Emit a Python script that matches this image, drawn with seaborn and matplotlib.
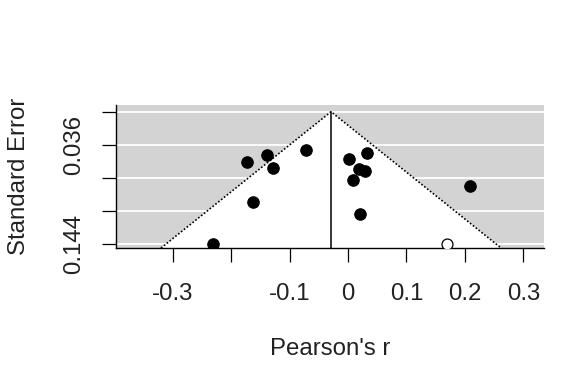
import numpy as np
import seaborn as sns
import matplotlib
matplotlib.use("Agg")
from matplotlib import pyplot as plt

# observed studies (Pearson's r, standard error)
study_r = [-0.172, -0.139, -0.128, -0.072, -0.163, -0.231,
           0.002, 0.032, 0.019, 0.029, 0.008, 0.021, 0.209]
study_se = [0.055, 0.047, 0.061, 0.042, 0.098, 0.144,
            0.051, 0.045, 0.062, 0.065, 0.074, 0.111, 0.081]
# study imputed by trim-and-fill
filled_r = [0.169]
filled_se = [0.144]
# adjusted pooled estimate
pooled_r = -0.029

x_ticks = [-0.3, -0.2, -0.1, 0, 0.1, 0.2, 0.3]
x_tick_labels = ['-0.3', '', '-0.1', '0', '0.1', '0.2', '0.3']
y_ticks = [0.0, 0.036, 0.072, 0.108, 0.144]
y_tick_labels = ['', '0.036', '', '', '0.144']

sns.set_style('white')
plt.rcParams['font.family'] = ['Liberation Sans', 'DejaVu Sans']
plt.rcParams['font.size'] = 17.3

fig = plt.figure(figsize=(5.87, 3.81), dpi=100)
ax = fig.add_axes([0.1976, 0.3491, 0.7291, 0.3753])

xlim = (-0.3966, 0.3350)
ylim = (0.1483, -0.0073)
ax.set_xlim(*xlim)
ax.set_ylim(*ylim)
ax.set_facecolor('#d3d3d3')

# white grid lines on the grey background
for yt in y_ticks:
    ax.axhline(yt, color='white', lw=1.3, zorder=1)

# funnel region (95% pseudo-confidence)
se_max = ylim[0]
half = 1.96 * se_max
ax.fill([pooled_r - half, pooled_r, pooled_r + half],
        [se_max, 0, se_max], color='white', zorder=2, lw=0)
ax.plot([pooled_r - half, pooled_r, pooled_r + half],
        [se_max, 0, se_max], color='black', ls=(0, (1, 1.2)), lw=1.2, zorder=3)
ax.plot([pooled_r, pooled_r], [0, se_max], color='black', lw=1.1, zorder=3)

sns.scatterplot(x=study_r, y=study_se, ax=ax, color='black', s=68,
                edgecolor='black', linewidth=0.8, zorder=4, legend=False)
sns.scatterplot(x=filled_r, y=filled_se, ax=ax, color='white', s=62,
                edgecolor='black', linewidth=0.9, zorder=4, legend=False)

ax.set_xticks(x_ticks)
ax.set_xticklabels(x_tick_labels)
ax.set_yticks(y_ticks)
ax.set_yticklabels(y_tick_labels, rotation=90, va='center')

for s in ['top', 'right']:
    ax.spines[s].set_visible(False)
for s in ['left', 'bottom']:
    ax.spines[s].set_color('black')
    ax.spines[s].set_linewidth(1.0)

ax.tick_params(axis='both', which='both', direction='out', length=10,
               width=0.9, color='black', labelcolor='#222222',
               bottom=True, left=True)
ax.tick_params(axis='x', pad=15)
ax.tick_params(axis='y', pad=12)

ax.set_xlabel("Pearson's r", labelpad=24, color='#222222')
ax.set_ylabel('Standard Error', labelpad=24, color='#222222')

fig.savefig('out.png', dpi=100)
